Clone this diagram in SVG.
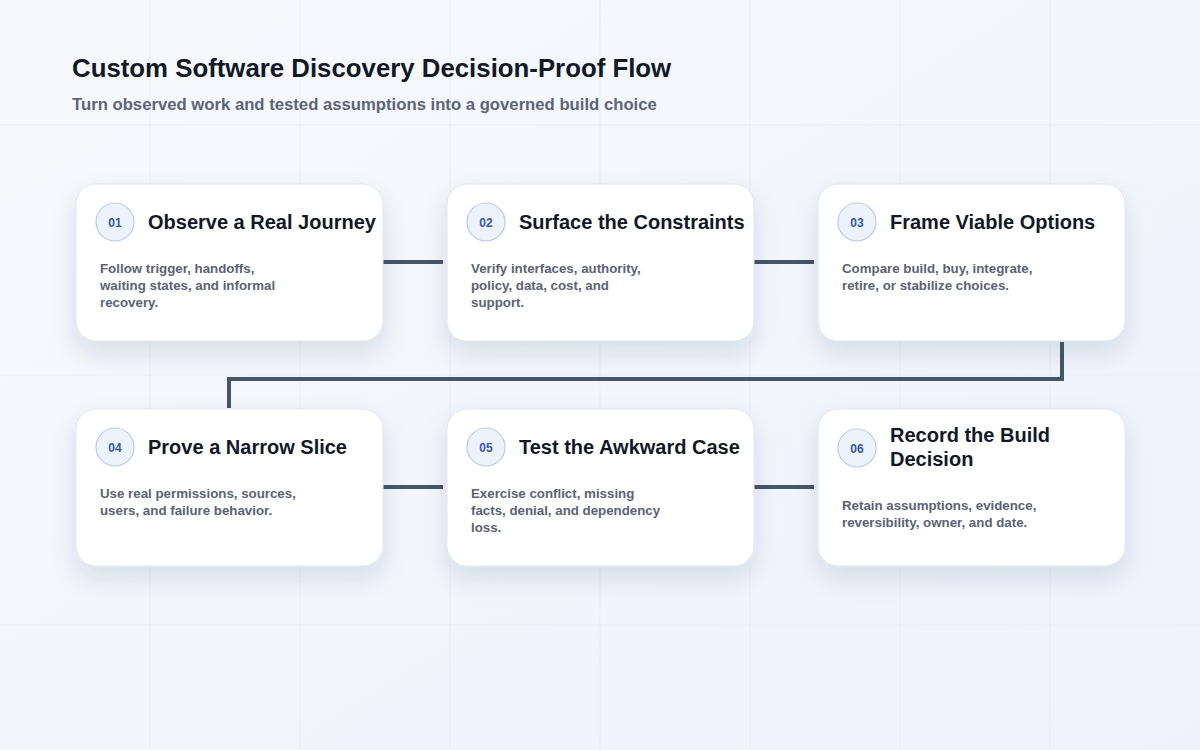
<svg xmlns="http://www.w3.org/2000/svg" width="1200" height="750" viewBox="0 0 1200 750">
  <defs>
    <linearGradient id="bg" x1="0" y1="0" x2="1" y2="1">
      <stop offset="0" stop-color="#f7f9fc"/>
      <stop offset="1" stop-color="#edf3fd"/>
    </linearGradient>
    <filter id="shadow" x="-20%" y="-20%" width="140%" height="170%">
      <feDropShadow dx="0" dy="12" stdDeviation="12" flood-color="#1e2a50" flood-opacity="0.12"/>
    </filter>
    <style>
      .grid { stroke: #e9eef5; stroke-width: 1; }
      .card { fill: #ffffff; stroke: #dfe5ee; stroke-width: 1; filter: url(#shadow); }
      .badge { fill: #edf3fd; stroke: #b9cdeb; stroke-width: 1.2; }
      .num { font-family: "Liberation Sans", Arial, sans-serif; font-weight: 700; font-size: 12px; fill: #3557a6; text-anchor: middle; }
      .title { font-family: "Liberation Sans", Arial, sans-serif; font-weight: 700; font-size: 20px; fill: #111827; }
      .desc { font-family: "Liberation Sans", Arial, sans-serif; font-weight: 700; font-size: 13.3px; fill: #5a6374; }
      .conn { fill: none; stroke: #475569; stroke-width: 4; }
      .h1 { font-family: "Liberation Sans", Arial, sans-serif; font-weight: 700; font-size: 25.8px; fill: #111827; }
      .h2 { font-family: "Liberation Sans", Arial, sans-serif; font-weight: 700; font-size: 16.7px; fill: #5b6577; }
    </style>
  </defs>
  <rect width="1200" height="750" fill="url(#bg)"/>
  <g id="grid">
    <line class="grid" x1="150" y1="0" x2="150" y2="750"/>
    <line class="grid" x1="300" y1="0" x2="300" y2="750"/>
    <line class="grid" x1="450" y1="0" x2="450" y2="750"/>
    <line class="grid" x1="600" y1="0" x2="600" y2="750"/>
    <line class="grid" x1="750" y1="0" x2="750" y2="750"/>
    <line class="grid" x1="900" y1="0" x2="900" y2="750"/>
    <line class="grid" x1="1050" y1="0" x2="1050" y2="750"/>
    <line class="grid" x1="0" y1="125" x2="1200" y2="125"/>
    <line class="grid" x1="0" y1="375" x2="1200" y2="375"/>
    <line class="grid" x1="0" y1="625" x2="1200" y2="625"/>
  </g>
  <g id="header">
    <text class="h1" x="72" y="77">Custom Software Discovery Decision-Proof Flow</text>
    <text class="h2" x="72" y="110">Turn observed work and tested assumptions into a governed build choice</text>
  </g>
  <g id="connectors">
    <line class="conn" x1="383" y1="262" x2="443" y2="262"/>
    <line class="conn" x1="754" y1="262" x2="814" y2="262"/>
    <polyline class="conn" points="1062,342 1062,379 229,379 229,408"/>
    <line class="conn" x1="383" y1="487" x2="443" y2="487"/>
    <line class="conn" x1="754" y1="487" x2="814" y2="487"/>
  </g>
  <g id="node-01">
    <rect class="card" x="76" y="184" width="307" height="157" rx="20"/>
    <circle class="badge" cx="115" cy="222" r="19"/>
    <text class="num" x="115" y="226.5">01</text>
    <text class="title" x="148" y="229">Observe a Real Journey</text>
    <text class="desc" x="100" y="273">Follow trigger, handoffs,</text>
    <text class="desc" x="100" y="290">waiting states, and informal</text>
    <text class="desc" x="100" y="307">recovery.</text>
  </g>
  <g id="node-02">
    <rect class="card" x="447" y="184" width="307" height="157" rx="20"/>
    <circle class="badge" cx="486" cy="222" r="19"/>
    <text class="num" x="486" y="226.5">02</text>
    <text class="title" x="519" y="229">Surface the Constraints</text>
    <text class="desc" x="471" y="273">Verify interfaces, authority,</text>
    <text class="desc" x="471" y="290">policy, data, cost, and</text>
    <text class="desc" x="471" y="307">support.</text>
  </g>
  <g id="node-03">
    <rect class="card" x="818" y="184" width="307" height="157" rx="20"/>
    <circle class="badge" cx="857" cy="222" r="19"/>
    <text class="num" x="857" y="226.5">03</text>
    <text class="title" x="890" y="229">Frame Viable Options</text>
    <text class="desc" x="842" y="273">Compare build, buy, integrate,</text>
    <text class="desc" x="842" y="290">retire, or stabilize choices.</text>
  </g>
  <g id="node-04">
    <rect class="card" x="76" y="409" width="307" height="157" rx="20"/>
    <circle class="badge" cx="115" cy="447" r="19"/>
    <text class="num" x="115" y="451.5">04</text>
    <text class="title" x="148" y="454">Prove a Narrow Slice</text>
    <text class="desc" x="100" y="498">Use real permissions, sources,</text>
    <text class="desc" x="100" y="515">users, and failure behavior.</text>
  </g>
  <g id="node-05">
    <rect class="card" x="447" y="409" width="307" height="157" rx="20"/>
    <circle class="badge" cx="486" cy="447" r="19"/>
    <text class="num" x="486" y="451.5">05</text>
    <text class="title" x="519" y="454">Test the Awkward Case</text>
    <text class="desc" x="471" y="498">Exercise conflict, missing</text>
    <text class="desc" x="471" y="515">facts, denial, and dependency</text>
    <text class="desc" x="471" y="532">loss.</text>
  </g>
  <g id="node-06">
    <rect class="card" x="818" y="409" width="307" height="157" rx="20"/>
    <circle class="badge" cx="857" cy="448" r="19"/>
    <text class="num" x="857" y="452.5">06</text>
    <text class="title" x="890" y="442">Record the Build</text>
    <text class="title" x="890" y="466">Decision</text>
    <text class="desc" x="842" y="510">Retain assumptions, evidence,</text>
    <text class="desc" x="842" y="527">reversibility, owner, and date.</text>
  </g>
</svg>
